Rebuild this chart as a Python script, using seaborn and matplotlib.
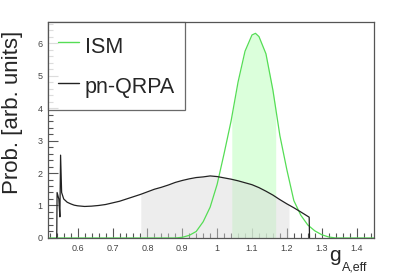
import numpy as np
import pandas as pd
import seaborn as sns
from matplotlib import pyplot as plt
from matplotlib.ticker import MultipleLocator

# ISM distribution
ism_x = [0.515, 0.88, 0.90, 0.92, 0.94, 0.96, 0.98, 1.00, 1.02, 1.04, 1.06, 1.08,
         1.10, 1.11, 1.12, 1.14, 1.16, 1.18, 1.20, 1.22, 1.24, 1.26, 1.28, 1.30,
         1.32, 1.34, 1.45]
ism_y = [0, 0, 0.02, 0.08, 0.2, 0.5, 0.95, 1.65, 2.6, 3.6, 4.8, 5.75,
         6.25, 6.3, 6.2, 5.67, 4.55, 3.15, 2.1, 1.15, 0.7, 0.4, 0.22, 0.1,
         0.03, 0, 0]

# pn-QRPA distribution
qrpa_x = [0.540, 0.541, 0.546, 0.549, 0.551, 0.554, 0.56, 0.57, 0.58, 0.59, 0.60,
          0.62, 0.64, 0.66, 0.68, 0.70, 0.72, 0.74, 0.76, 0.78, 0.80, 0.82, 0.84,
          0.86, 0.88, 0.90, 0.92, 0.94, 0.96, 0.98, 1.00, 1.02, 1.04, 1.06, 1.08,
          1.10, 1.12, 1.14, 1.16, 1.18, 1.20, 1.22, 1.24, 1.264, 1.265]
qrpa_y = [0, 1.4, 1.2, 0.65, 2.55, 1.4, 1.2, 1.1, 1.05, 1.01, 0.99,
          0.97, 0.98, 1.0, 1.03, 1.08, 1.13, 1.2, 1.27, 1.34, 1.42, 1.5, 1.56,
          1.63, 1.71, 1.77, 1.82, 1.86, 1.88, 1.91, 1.89, 1.85, 1.81, 1.76, 1.70,
          1.64, 1.55, 1.44, 1.32, 1.18, 1.05, 0.93, 0.80, 0.64, 0]

# shaded intervals
ism_band = (1.042, 1.168)
qrpa_band = (0.781, 1.206)

green = '#55dd55'
df_ism = pd.DataFrame({'x': ism_x, 'y': ism_y})
df_qrpa = pd.DataFrame({'x': qrpa_x, 'y': qrpa_y})

sns.set_style("ticks")
plt.rcParams['font.family'] = ['Liberation Sans', 'DejaVu Sans']

fig = plt.figure(figsize=(4.07, 2.78), dpi=100)
ax = fig.add_axes([0.118, 0.144, 0.801, 0.777])

# shaded bands under the curves
gx = np.linspace(ism_band[0], ism_band[1], 200)
ax.fill_between(gx, 0, np.interp(gx, ism_x, ism_y), color='#ccffcc', alpha=0.7, lw=0)
qx = np.linspace(qrpa_band[0], qrpa_band[1], 200)
ax.fill_between(qx, 0, np.interp(qx, qrpa_x, qrpa_y), color='#d8d8d8', alpha=0.45, lw=0)

sns.lineplot(data=df_ism, x='x', y='y', ax=ax, color=green, lw=0.9,
             label='ISM', sort=False, estimator=None)
sns.lineplot(data=df_qrpa, x='x', y='y', ax=ax, color='#222222', lw=0.9,
             label='pn-QRPA', sort=False, estimator=None)

ax.set_xlim(0.515, 1.45)
ax.set_ylim(0, 6.65)
ax.xaxis.set_major_locator(MultipleLocator(0.1))
ax.xaxis.set_minor_locator(MultipleLocator(0.02))
ax.yaxis.set_major_locator(MultipleLocator(1))
ax.yaxis.set_minor_locator(MultipleLocator(0.2))
ax.tick_params(which='both', direction='in', top=False, right=False,
               labelsize=6.5, labelcolor='#444444', color='#555555', width=0.8)
ax.tick_params(which='major', length=7, pad=4)
ax.tick_params(which='minor', length=3.5)
ax.set_xticks([0.6, 0.7, 0.8, 0.9, 1.0, 1.1, 1.2, 1.3, 1.4])
ax.set_xticklabels(['0.6', '0.7', '0.8', '0.9', '1', '1.1', '1.2', '1.3', '1.4'])
for s in ax.spines.values():
    s.set_color('#555555')
    s.set_linewidth(0.9)

ax.set_xlabel('')
ax.set_ylabel('Prob. [arb. units]', fontsize=16, ha='right')
ax.yaxis.set_label_coords(-0.077, 0.96)

# axis title g_{A,eff}, ROOT style
fig.text(329 / 407, 1 - 261 / 278, 'g', fontsize=15, va='baseline', ha='left')
fig.text(342 / 407, 1 - 270 / 278, 'A,eff', fontsize=9, va='baseline', ha='left')

leg = ax.legend(loc='upper left', fontsize=15.5, frameon=True, fancybox=False,
                edgecolor='#444444', borderaxespad=0, handlelength=1.0,
                handleheight=1.6, labelspacing=0.6, borderpad=0.45,
                handletextpad=0.25)
leg.get_frame().set_linewidth(0.9)
for line in leg.get_lines():
    line.set_linewidth(1.0)

plt.savefig('out.png', dpi=100)
